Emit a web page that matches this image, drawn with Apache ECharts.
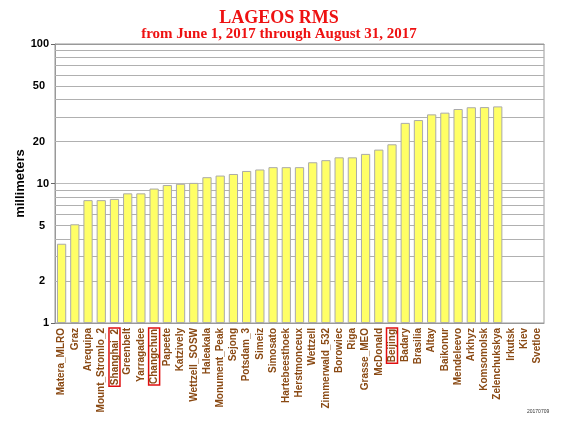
<!DOCTYPE html>
<html>
<head>
<meta charset="utf-8">
<script src="https://cdn.jsdelivr.net/npm/echarts@6/dist/echarts.min.js"></script>
<style>
  html, body { margin: 0; padding: 0; background: #fff; }
  #main { width: 562px; height: 421px; }
</style>
</head>
<body>
<div id="main"></div>
<script>
var stations = ['Matera_MLRO', 'Graz', 'Arequipa', 'Mount_Stromlo_2', 'Shanghai_2', 'Greenbelt',
  'Yarragadee', 'Changchun', 'Papeete', 'Katzively', 'Wettzell_SOSW', 'Haleakala', 'Monument_Peak',
  'Sejong', 'Potsdam_3', 'Simeiz', 'Simosato', 'Hartebeesthoek', 'Herstmonceux', 'Wettzell',
  'Zimmerwald_532', 'Borowiec', 'Riga', 'Grasse_MEO', 'McDonald', 'Beijing', 'Badary', 'Brasilia',
  'Altay', 'Baikonur', 'Mendeleevo', 'Arkhyz', 'Komsomolsk', 'Zelenchukskya', 'Irkutsk', 'Kiev', 'Svetloe']
var rms = [3.7, 5.1, 7.6, 7.6, 7.75, 8.5, 8.5, 9.2, 9.75, 9.95, 10.1, 11.1, 11.4, 11.7, 12.3, 12.6,
  13.1, 13.1, 13.1, 14.2, 14.7, 15.4, 15.4, 16.3, 17.5, 19.1, 27.2, 28.5, 31.3, 32.2, 34.2, 35.2,
  35.3, 35.7, null, null, null]
var boxed = ['Shanghai_2', 'Changchun', 'Beijing']
var gridValues = [2, 3, 4, 5, 6, 7, 8, 9, 20, 30, 40, 50, 60, 70, 80, 90]
var labeledValues = [2, 5, 20, 50]

var myChart = echarts.init(document.querySelector('#main'))

var option = {
  animation: false,
  textStyle: { fontFamily: 'Liberation Sans' },
  title: [
    {
      text: 'LAGEOS RMS',
      left: 274, top: 4, textAlign: 'center',
      textStyle: { fontFamily: 'Liberation Serif', fontWeight: 'bold', fontSize: 18, color: '#ee1111' }
    },
    {
      text: 'from June 1, 2017 through August 31, 2017',
      left: 274, top: 22, textAlign: 'center',
      textStyle: { fontFamily: 'Liberation Serif', fontWeight: 'bold', fontSize: 15, color: '#ee1111' }
    }
  ],
  graphic: [{
    type: 'text', left: 527, top: 409,
    style: { text: '20170709', fontSize: 5, fill: '#333', fontFamily: 'Liberation Sans' }
  }],
  grid: { left: 55, right: 18, top: 44, bottom: 98, show: true, borderColor: '#999', borderWidth: 1 },
  xAxis: [
    {
      type: 'category',
      data: stations,
      axisLine: { lineStyle: { color: '#999' } },
      axisTick: { length: 3, lineStyle: { color: '#999' } },
      axisLabel: {
        rotate: 90, interval: 0, margin: 5,
        fontSize: 10, fontWeight: 'bold', color: '#8a4a14',
        formatter: function (v) {
          return boxed.indexOf(v) >= 0 ? '{box|' + v + '}' : v
        },
        rich: {
          box: {
            fontSize: 10, fontWeight: 'bold', color: '#8a4a14',
            borderColor: '#e01010', borderWidth: 1.5, padding: [1, 1, 0, 1]
          }
        }
      }
    },
    {
      type: 'category',
      position: 'top',
      data: stations,
      axisLine: { lineStyle: { color: '#999' } },
      axisTick: { length: 3, lineStyle: { color: '#999' } },
      axisLabel: { show: false }
    }
  ],
  yAxis: {
    type: 'log',
    logBase: 10,
    min: 1,
    max: 100,
    name: 'millimeters',
    nameLocation: 'middle',
    nameGap: 28,
    nameMoveOverlap: false,
    nameTextStyle: { fontSize: 13, fontWeight: 'bold', color: '#000' },
    axisLine: { show: true, lineStyle: { color: '#999' } },
    axisTick: { show: true, length: 4, lineStyle: { color: '#666' } },
    axisLabel: { fontSize: 11, fontWeight: 'bold', color: '#000', margin: 6 },
    splitLine: { show: true, lineStyle: { color: '#bbb', width: 1 } }
  },
  series: [{
    type: 'bar',
    data: rms,
    barCategoryGap: '30%',
    z: 3,
    itemStyle: { color: '#ffff66', borderColor: '#aaa', borderWidth: 1 },
    markLine: {
      silent: true,
      symbol: 'none',
      animation: false,
      z: 1,
      lineStyle: { type: 'solid', color: '#b0b0b0', width: 1 },
      label: {
        show: true,
        position: 'start',
        distance: 10,
        fontSize: 11, fontWeight: 'bold', color: '#000', fontFamily: 'Liberation Sans',
        formatter: function (p) {
          return labeledValues.indexOf(p.value) >= 0 ? String(p.value) : ''
        }
      },
      data: gridValues.map(function (v) { return { yAxis: v } })
    }
  }]
}

myChart.setOption(option)
</script>
</body>
</html>
